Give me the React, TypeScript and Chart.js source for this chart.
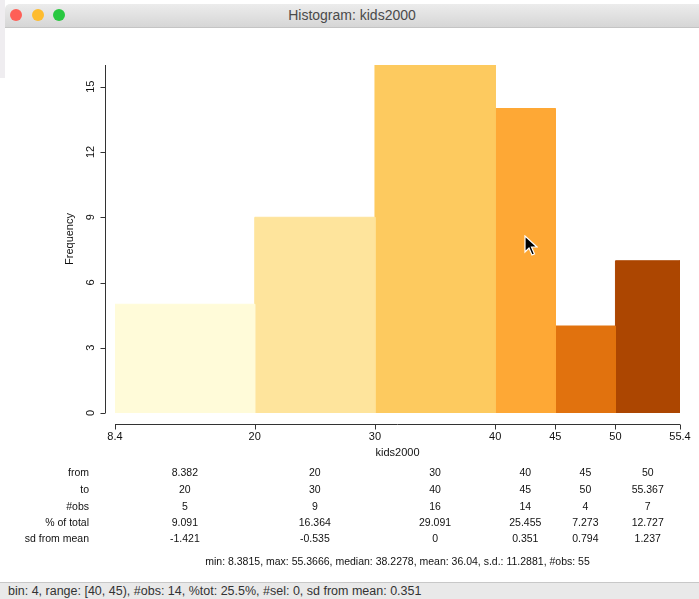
import React, { useEffect, useRef } from "react";
import { Chart, registerables } from "chart.js";

Chart.register(...registerables);

// ---- data ----
const binFrom = [8.382, 20, 30, 40, 45, 50];
const binTo = [20, 30, 40, 45, 50, 55.367];
const binCounts = [5, 9, 16, 14, 4, 7];
const fromLabels = ["8.382", "20", "30", "40", "45", "50"];
const toLabels = ["20", "30", "40", "45", "50", "55.367"];
const pctLabels = ["9.091", "16.364", "29.091", "25.455", "7.273", "12.727"];
const sdLabels = ["-1.421", "-0.535", "0", "0.351", "0.794", "1.237"];
const binColors = ["#fffbd9", "#fee49c", "#fdca5f", "#fea835", "#e1720e", "#ac4601"];
const xTickValues = [8.382, 20, 30, 40, 45, 50, 55.367];
const xTickLabels = ["8.4", "20", "30", "40", "45", "50", "55.4"];
const yTickValues = [0, 3, 6, 9, 12, 15];
const yMax = 16;
const xTitle = "kids2000";
const yTitle = "Frequency";
const summaryText =
  "min: 8.3815, max: 55.3666, median: 38.2278, mean: 36.04, s.d.: 11.2881, #obs: 55";
const statusText =
  "bin: 4, range: [40, 45), #obs: 14, %tot: 25.5%, #sel: 0, sd from mean: 0.351";
const windowTitle = "Histogram: kids2000";

const FONT = "'Liberation Sans', Arial, Helvetica, sans-serif";
const CANVAS_W = 699;
const CANVAS_H = 554;

const axesPlugin = {
  id: "rAxes",
  afterDraw(chart: any) {
    const ctx = chart.ctx;
    const xs = chart.scales.x;
    const ys = chart.scales.y;
    ctx.save();
    ctx.strokeStyle = "#333";
    ctx.fillStyle = "#111";
    ctx.lineWidth = 1;

    // y axis
    const yAxisX = 105.5;
    ctx.beginPath();
    ctx.moveTo(yAxisX, ys.getPixelForValue(0));
    ctx.lineTo(yAxisX, ys.getPixelForValue(yMax));
    yTickValues.forEach((v) => {
      const py = Math.round(ys.getPixelForValue(v)) + 0.5;
      ctx.moveTo(yAxisX, py);
      ctx.lineTo(yAxisX - 5, py);
    });
    ctx.stroke();
    ctx.font = `11px ${FONT}`;
    ctx.textAlign = "center";
    ctx.textBaseline = "middle";
    yTickValues.forEach((v) => {
      const py = ys.getPixelForValue(v);
      ctx.save();
      ctx.translate(91, py);
      ctx.rotate(-Math.PI / 2);
      ctx.fillText(String(v), 0, 0);
      ctx.restore();
    });
    ctx.save();
    ctx.translate(70, ys.getPixelForValue(yMax / 2));
    ctx.rotate(-Math.PI / 2);
    ctx.fillText(yTitle, 0, 0);
    ctx.restore();

    // x axis
    const xAxisY = 396.5;
    ctx.beginPath();
    ctx.moveTo(xs.getPixelForValue(xTickValues[0]), xAxisY);
    ctx.lineTo(xs.getPixelForValue(xTickValues[xTickValues.length - 1]), xAxisY);
    xTickValues.forEach((v) => {
      const px = Math.round(xs.getPixelForValue(v)) + 0.5;
      ctx.moveTo(px, xAxisY);
      ctx.lineTo(px, xAxisY + 5);
    });
    ctx.stroke();
    xTickValues.forEach((v, i) => {
      ctx.fillText(xTickLabels[i], xs.getPixelForValue(v), 409);
    });
    const midX = (xs.left + xs.right) / 2;
    ctx.fillText(xTitle, midX, 425);

    // table
    ctx.font = `10.5px ${FONT}`;
    const rowNames = ["from", "to", "#obs", "% of total", "sd from mean"];
    const rows = [fromLabels, toLabels, binCounts.map(String), pctLabels, sdLabels];
    const rowY = [445, 462, 479, 495, 511];
    rows.forEach((row, r) => {
      ctx.textAlign = "right";
      ctx.fillText(rowNames[r], 89, rowY[r]);
      ctx.textAlign = "center";
      row.forEach((txt, i) => {
        const cx = (xs.getPixelForValue(binFrom[i]) + xs.getPixelForValue(binTo[i])) / 2;
        ctx.fillText(txt, cx, rowY[r]);
      });
    });
    ctx.textAlign = "center";
    ctx.fillText(summaryText, midX, 534);
    ctx.restore();
  },
};

function App() {
  const ref = useRef<HTMLCanvasElement | null>(null);

  useEffect(() => {
    document.body.style.margin = "0";
    const canvas = ref.current;
    if (!canvas) return;
    const datasets = binCounts.map((c, i) => ({
      label: `${binFrom[i]}-${binTo[i]}`,
      data: [
        { x: binFrom[i], y: 0 },
        { x: binFrom[i], y: c },
        { x: binTo[i], y: c },
        { x: binTo[i], y: 0 },
      ],
      showLine: true,
      fill: "origin",
      backgroundColor: binColors[i],
      borderColor: binColors[i],
      borderWidth: 1,
      pointRadius: 0,
      pointHoverRadius: 0,
      tension: 0,
    }));
    const chart = new Chart(canvas, {
      type: "scatter",
      data: { datasets: datasets as any },
      options: {
        animation: false,
        responsive: false,
        events: [],
        layout: { padding: { left: 115, right: 19, top: 37, bottom: 169 } },
        plugins: { legend: { display: false }, tooltip: { enabled: false } },
        scales: {
          x: { type: "linear", display: false, min: binFrom[0], max: binTo[binTo.length - 1] },
          y: { type: "linear", display: false, min: 0, max: yMax },
        },
      },
      plugins: [axesPlugin],
    });
    return () => chart.destroy();
  }, []);

  return (
    <div style={{ position: "relative", width: 699, height: 599, background: "#fff", overflow: "hidden", fontFamily: FONT }}>
      <div style={{ position: "absolute", left: 0, top: 0, width: 5, height: 78, background: "#efedf0" }} />
      <div
        style={{
          position: "absolute",
          left: 5,
          top: 4,
          width: 700,
          height: 23,
          background: "linear-gradient(#ececec, #d6d6d6)",
          borderBottom: "1px solid #c4c4c4",
          borderTopLeftRadius: 5,
        }}
      >
        {[
          ["#fe5f57", 11],
          ["#febc2e", 33],
          ["#28c840", 54],
        ].map(([c, x], i) => (
          <div
            key={i}
            style={{
              position: "absolute",
              left: (x as number) - 6,
              top: 5,
              width: 12,
              height: 12,
              borderRadius: 6,
              background: c as string,
            }}
          />
        ))}
        <div
          style={{
            position: "absolute",
            left: 0,
            width: 694,
            top: 3,
            textAlign: "center",
            fontSize: 14,
            color: "#4a4a4a",
          }}
        >
          {windowTitle}
        </div>
      </div>
      <canvas
        ref={ref}
        width={CANVAS_W}
        height={CANVAS_H}
        style={{ position: "absolute", left: 0, top: 28, width: CANVAS_W, height: CANVAS_H }}
      />
      <svg
        width={14}
        height={22}
        viewBox="0 0 14 22"
        style={{ position: "absolute", left: 524, top: 235 }}
      >
        <path d="M1 1 L1 17 L5 13 L8 20 L10.5 19 L7.5 12 L13 12 Z" fill="#000" stroke="#fff" strokeWidth={1.2} />
      </svg>
      <div
        style={{
          position: "absolute",
          left: 0,
          top: 582,
          width: 699,
          height: 17,
          background: "#e9e9e9",
          borderTop: "1px solid #c8c8c8",
          fontSize: 12.5,
          color: "#333",
          lineHeight: "17px",
          paddingLeft: 8,
          boxSizing: "border-box",
          whiteSpace: "nowrap",
        }}
      >
        {statusText}
      </div>
    </div>
  );
}

export default App;
